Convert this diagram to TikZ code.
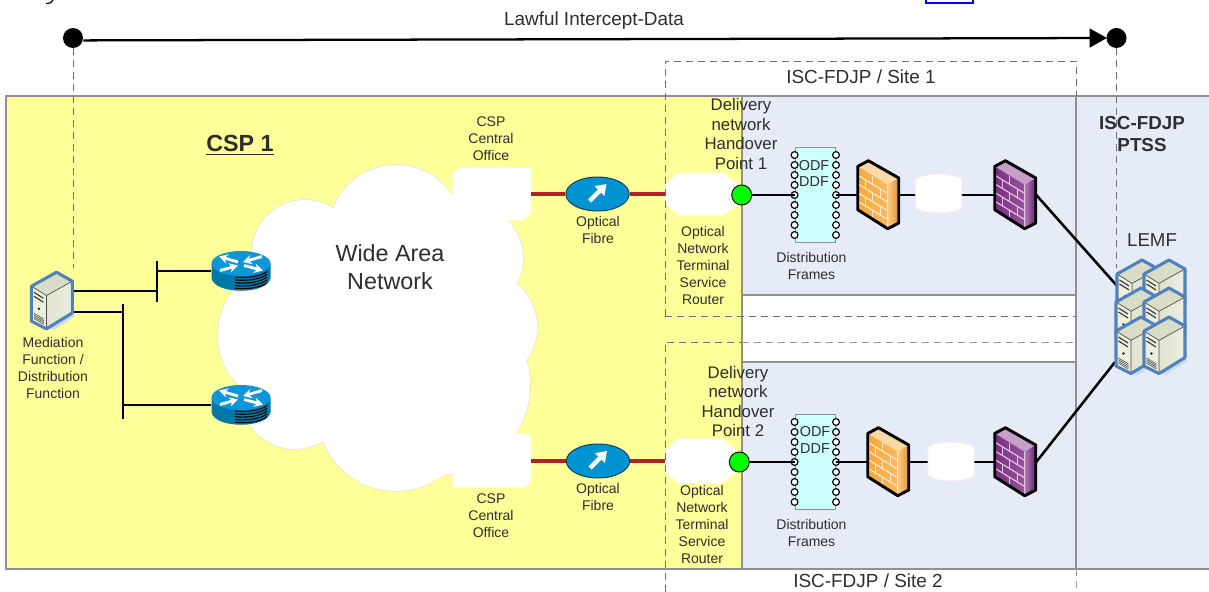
\documentclass[tikz,border=0pt]{standalone}
\usepackage{fontspec}
\setmainfont{Liberation Sans}
\usetikzlibrary{arrows.meta,shapes.geometric,calc}
\definecolor{yel}{HTML}{FFFF99}
\definecolor{pale}{HTML}{E6ECF7}
\definecolor{edge}{HTML}{909090}
\definecolor{dash}{HTML}{6E6E6E}
\definecolor{txt}{HTML}{2E2E2E}
\definecolor{srv}{HTML}{4F81BD}
\definecolor{fibre}{HTML}{B22222}
\definecolor{fibblue}{HTML}{0093D2}
\definecolor{fibedge}{HTML}{0B3B5C}
\definecolor{srvtop}{HTML}{DADDC6}
\definecolor{srvfront}{HTML}{EEEEDF}
\definecolor{srvside}{HTML}{E0E3CE}
\definecolor{rtbody}{HTML}{0078A8}
\definecolor{rttop}{HTML}{0F96D8}
\definecolor{framefill}{HTML}{CCFFFF}
\definecolor{fworange}{HTML}{F7A83A}
\definecolor{fworangedark}{HTML}{E8921E}
\definecolor{fwpurple}{HTML}{7E2A84}
\definecolor{fwpurpledark}{HTML}{62206C}
\tikzset{
  x=.75pt,y=-.75pt,
  area/.style={fill=#1,draw=edge,line width=.8pt},
  dashline/.style={draw=dash,line width=.7pt,dash pattern=on 5.5pt off 3.5pt},
  link/.style={draw=black,line width=1.9pt},
  redlink/.style={draw=fibre,line width=2.4pt},
  whiteshape/.style={fill=white,draw=white},
  small/.style={text=txt,align=center,inner sep=0pt,font=\fontsize{10.5}{12.75}\selectfont},
  mid/.style={text=txt,align=center,inner sep=0pt,font=\fontsize{14.2}{16}\selectfont},
  frametext/.style={text=txt,align=center,inner sep=0pt,font=\fontsize{10.8}{12}\selectfont},
  handover/.style={text=txt,align=center,inner sep=0pt,font=\fontsize{12.6}{14.7}\selectfont},
  big/.style={text=txt,align=center,inner sep=0pt,font=\fontsize{17.5}{21}\selectfont},
  head/.style={text=txt,align=center,inner sep=0pt,font=\bfseries\fontsize{14.1}{16.5}\selectfont},
  endpoint/.style={circle,fill=black,minimum size=15pt,inner sep=0pt},
  handpoint/.style={circle,fill=green,draw=black,line width=.7pt,minimum size=15pt,inner sep=0pt},
  fibrenode/.style={ellipse,fill=fibblue,draw=fibedge,line width=.7pt,minimum width=47.5pt,minimum height=25.5pt,inner sep=0pt},
  framebox/.style={fill=framefill,draw=edge,line width=.6pt,minimum width=30.5pt,minimum height=71pt,inner sep=0pt},
  fwbox/.style={minimum width=30.75pt,minimum height=51pt,inner sep=0pt},
  srvbox/.style={minimum width=30.75pt,minimum height=42.75pt,inner sep=0pt},
  rtbox/.style={minimum width=44.25pt,minimum height=30pt,inner sep=0pt},
  cylbox/.style={minimum width=34.5pt,minimum height=28.5pt,inner sep=0pt},
  pics/firewall/.style 2 args={code={
    \fill[#2!45!white] (0,5.7)--(10.7,0)--(41,17.3)--(30,24)--cycle;
    \shade[left color=#2,right color=#2!80!white] (0,5.7)--(30,24)--(30,68)--(0,49)--cycle;
    \shade[left color=#2!60!white,right color=#1] (30,24)--(41,17.3)--(41,62.3)--(30,68)--cycle;
    \foreach \v in {.2,.4,.6,.8}
      \draw[#2!25!white,line width=.85pt] (0,{5.7+43.5*\v})--(30,{24+43.5*\v});
    \foreach \u/\va/\vb in {.5/0/.2,.25/.2/.4,.75/.2/.4,.5/.4/.6,.25/.6/.8,.75/.6/.8,.5/.8/1}
      \draw[#2!25!white,line width=.85pt] ({30*\u},{5.7+18.3*\u+43.5*\va})--({30*\u},{5.7+18.3*\u+43.5*\vb});
    \draw[#2!25!white,line width=.85pt] (30,24)--(30,68);
    \draw[black,line width=2.2pt,line join=round] (0,5.7)--(10.7,0)--(41,17.3)--(41,62.3)--(30,68)--(0,49)--cycle;
  }},
  pics/server/.style={code={
    \fill[srv!30!white] (15,56)--(41,40)--(43,44)--(22,58)--cycle;
    \fill[srvtop] (0,14)--(25,0)--(41,9)--(15,23.3)--cycle;
    \fill[srvfront] (0,14)--(15,23.3)--(15,56.6)--(0,49)--cycle;
    \shade[left color=srvside,right color=srvside!60!white] (15,23.3)--(41,9)--(41,40.6)--(15,56.6)--cycle;
    \draw[black!70,line width=.5pt] (0,14)--(15,23.3)--(41,9) (15,23.3)--(15,56.6);
    \draw[black!75,line width=.9pt] (2.5,20)--(12,26) (2.5,24)--(12,30);
    \fill[black!60!teal] (7.5,36.5) circle[radius=1.4];
    \foreach \k in {0,1.7,3.4,5.1}
      \draw[black!70,line width=.45pt] (2.5,{41+\k})--(12.5,{47+\k});
    \draw[srv,line width=2.3pt,line join=round] (0,14)--(25,0)--(41,9)--(41,40.6)--(15,56.6)--(0,49)--cycle;
  }},
  pics/router/.style={code={
    \fill[rtbody] (-29.5,-7)--(-29.5,7) .. controls (-27,24) and (27,24) .. (29.5,7)--(29.5,-7)--cycle;
    \fill[rttop] (0,-7.5) ellipse[x radius=29.5,y radius=12.5];
    \foreach \i in {0,...,4}
      \draw[black,line width=.8pt] (-6,{6+2.8*\i}) .. controls (5,{7.5+2.8*\i}) and (20,{5.5+2.8*\i}) .. (26,{.5+2.8*\i});
    \draw[white,line width=2.1pt,-{Stealth[length=6.5pt,width=7pt]}] (-3,-9)--(-22,-14.5);
    \draw[white,line width=2.1pt,-{Stealth[length=6.5pt,width=7pt]}] (21,-14.5)--(2,-9);
    \draw[white,line width=2.1pt,-{Stealth[length=6.5pt,width=7pt]}] (-21,-.5)--(-3,-5.5);
    \draw[white,line width=2.1pt,-{Stealth[length=6.5pt,width=7pt]}] (3,-5.5)--(22,-.5);
  }},
  pics/whitecyl/.style={code={
    \path[fill=white,draw=pink!30!white,line width=.5pt] (-23,-14) .. controls (-15,-21) and (15,-21) .. (23,-14)--(23,14) .. controls (15,21) and (-15,21) .. (-23,14)--cycle;
  }},
  pics/upright/.style={code={
    \draw[white,line width=3.2pt,-{Triangle[length=7.5pt,width=10pt]}] (-8,7)--(9,-10);
  }},
  pics/pins/.style={code={
    \foreach \i in {0,...,8}
      \draw[fill=white,draw=black,line width=.85pt] (0,{10*\i}) circle[radius=3.4];
  }},
}
\begin{document}
\begin{tikzpicture}
\useasboundingbox (0,0) rectangle (1209,592);
\fill[white] (0,0) rectangle (1209,592);
% clipped remnants of the page above the figure
\draw[blue,line width=1.3pt] (926,0)--(926,3)--(973,3)--(973,0);
\draw[black,line width=.9pt] (53,0) .. controls (51,3) and (49,4) .. (46,3.5);
% areas
\path[area=yel] (6,96) rectangle (742,569);
\path[area=pale] (742,96) rectangle (1076,295);
\path[area=pale] (742,362) rectangle (1076,569);
\fill[pale] (1076,96) rectangle (1209,569);
\draw[edge,line width=.8pt] (1076,96)--(1209,96) (1076,96)--(1076,569)--(1209,569);
% cloud
\foreach \cx/\cy/\r in {396/232/67,305/253/53,290/335/72,295/395/54,396/413/78,470/258/53,480/327/57,440/385/90}
  \draw[black!12,line width=.9pt] (\cx,\cy) circle[radius=\r];
\foreach \cx/\cy/\r in {396/232/67,305/253/53,290/335/72,295/395/54,396/413/78,470/258/53,480/327/57,440/385/90,380/320/105}
  \fill[white] (\cx,\cy) circle[radius=\r];
% white equipment silhouettes
\path[whiteshape] (453,173)--(460,168)--(531,168)--(531,213)--(523,220)--(453,220)--cycle;
\path[whiteshape] (453,434)--(528,434)--(531,437)--(531,481)--(525,487)--(453,487)--cycle;
\path[whiteshape] (665,185)--(678,173)--(723,173)--(742,188)--(742,202)--(723,215)--(678,215)--(665,203)--cycle;
\path[whiteshape] (665,451)--(678,439)--(722,439)--(740,454)--(740,469)--(722,483)--(678,483)--(665,471)--cycle;
% dashed frames
\draw[dashline] (665,316)--(665,61)--(1076,61)--(1076,96);
\draw[dashline] (665,316)--(1076,316);
\draw[dashline] (665,592)--(665,342)--(742,342);
\draw[dashline,draw=black!40] (742,342)--(1076,342);
\draw[dashline,draw=black!40] (1076,569)--(1076,592);
\draw[dashline] (73,48)--(73,268);
\draw[dashline] (1116.5,48)--(1116.5,268);
% top arrow
\node[endpoint] (start) at (73,38) {};
\node[endpoint] (end) at (1116.5,38) {};
\coordinate (tip) at (1107,38);
\draw[black,line width=1.7pt,-{Triangle[length=13pt,width=14pt]}] ([yshift=-1.8pt]start.east) -- (tip);
% placeholders
\node[fwbox] (fwa1) at (878.5,195) {};
\node[fwbox] (fwb1) at (1015.5,195) {};
\node[fwbox] (fwa2) at (888.5,462) {};
\node[fwbox] (fwb2) at (1015.5,462) {};
\node[cylbox] (cyl1) at (938.7,193.5) {};
\node[cylbox] (cyl2) at (951,461.5) {};
\node[framebox] (odf1) at (815.3,195) {};
\node[framebox] (odf2) at (815.3,462) {};
\pic at (odf1.west |- 0,155) {pins};
\pic at (odf1.east |- 0,155) {pins};
\pic at (odf2.west |- 0,422) {pins};
\pic at (odf2.east |- 0,422) {pins};
\node[handpoint] (hp1) at (741.7,195) {};
\node[handpoint] (hp2) at (739.3,462) {};
\node[fibrenode] (of1) at (597.5,194) {};
\node[fibrenode] (of2) at (598,461) {};
\pic at (of1) {upright};
\pic at (of2) {upright};
\coordinate (co1) at (531,194);
\coordinate (co2) at (531,461);
\coordinate (ont1) at (665,194);
\coordinate (ont2) at (665,461);
\node[srvbox] (med) at (52.2,301) {};
\node[rtbox] (rt1) at (241,271) {};
\node[rtbox] (rt2) at (241,405) {};
\coordinate (lemfa) at (1118,287);
\coordinate (lemfb) at (1115,362);
\coordinate (bara) at (157,291);
\coordinate (baratop) at (157,261);
\coordinate (barabot) at (157,302);
\coordinate (barb) at (123,312);
\coordinate (barbtop) at (123,304);
\coordinate (barbbot) at (123,419);
% connectors
\draw[redlink] (co1) -- (of1.west);
\draw[redlink] (of1.east) -- (ont1);
\draw[redlink] (co2) -- (of2.west);
\draw[redlink] (of2.east) -- (ont2);
\draw[link] (hp1.east) -- (odf1.west);
\draw[link] (odf1.east) -- (fwa1.west);
\draw[link] (fwa1.east) -- (fwb1.west);
\draw[link] (hp2.east) -- (odf2.west);
\draw[link] (odf2.east) -- (fwa2.west);
\draw[link] (fwa2.east) -- (fwb2.west);
\draw[link] (fwb1.east) -- (lemfa);
\draw[link] (fwb2.east) -- (lemfb);
\draw[link] (med.east |- bara) -- (bara);
\draw[link] (baratop) -- (barabot);
\draw[link] (rt1.west) -- (rt1.west -| bara);
\draw[link] (med.east |- barb) -- (barb);
\draw[link] (barbtop) -- (barbbot);
\draw[link] (rt2.west) -- (rt2.west -| barb);
% icons
\pic at (cyl1) {whitecyl};
\pic at (cyl2) {whitecyl};
\pic at (fwa1.north west) {firewall={fworangedark}{fworange}};
\pic at (fwa2.north west) {firewall={fworangedark}{fworange}};
\pic at (fwb1.north west) {firewall={fwpurpledark}{fwpurple}};
\pic at (fwb2.north west) {firewall={fwpurpledark}{fwpurple}};
\pic at (med.north west) {server};
\pic at (rt1) {router};
\pic at (rt2) {router};
\foreach \sx/\sy in {1117/260,1144/260,1116/288,1144/288,1116/317,1144/317}
  \pic at (\sx,\sy) {server};
% labels
\node[mid] (t1) at (594,20.5) {Lawful Intercept-Data};
\node[mid] (t2) at (861,77) {ISC-FDJP / Site 1};
\node[mid] (t3) at (868,581) {ISC-FDJP / Site 2};
\node[text=txt,inner sep=0pt,font=\bfseries\fontsize{17.5}{20}\selectfont] (csp) at (240,145) {\underline{CSP 1}};
\node[big] (wan) at (390,267) {Wide Area\\Network};
\node[small] (c1) at (491,139) {CSP\\Central\\Office};
\node[small] (c2) at (491,516) {CSP\\Central\\Office};
\node[small] (f1) at (598,229.5) {Optical\\Fibre};
\node[small] (f2) at (598,496.5) {Optical\\Fibre};
\node[small] (r1) at (703,265) {Optical\\Network\\Terminal\\Service\\Router};
\node[small] (r2) at (702,524) {Optical\\Network\\Terminal\\Service\\Router};
\node[handover] (h1) at (741,134) {Delivery\\network\\Handover\\Point 1};
\node[handover] (h2) at (738,401.5) {Delivery\\network\\Handover\\Point 2};
\node[small] (d1) at (811.5,265.5) {Distribution\\Frames};
\node[small] (d2) at (811.5,532.5) {Distribution\\Frames};
\node[small] (m) at (53,367.5) {Mediation\\Function /\\Distribution\\Function};
\node[head] (ptss) at (1142,134) {ISC-FDJP\\PTSS};
\node[text=txt,inner sep=0pt,font=\fontsize{14}{16}\selectfont] (lemf) at (1152,240) {LEMF};
\node[frametext] at (814,165.5) {ODF};
\node[frametext] at (814,182) {DDF};
\node[frametext] at (815,432) {ODF};
\node[frametext] at (815,449) {DDF};
\end{tikzpicture}
\end{document}
